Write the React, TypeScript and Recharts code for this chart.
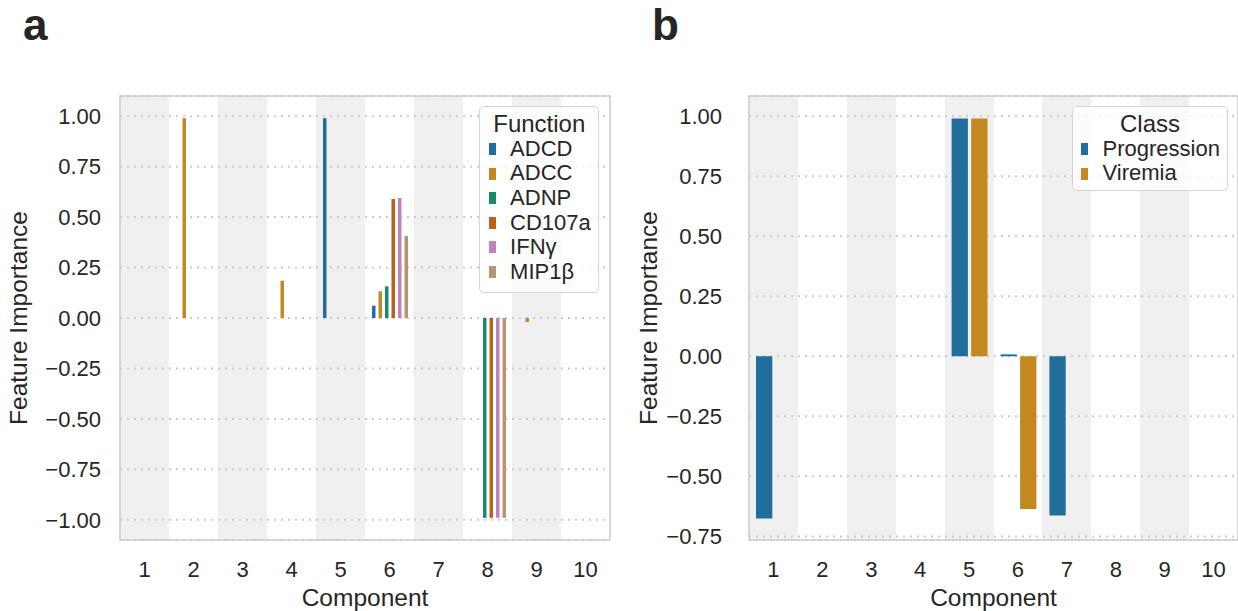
import { BarChart, Bar, XAxis, YAxis, CartesianGrid, ReferenceArea, Legend } from "recharts";

const components = [1, 2, 3, 4, 5, 6, 7, 8, 9, 10];

// panel a: importance of each antibody function per component
const functionNames = ["ADCD", "ADCC", "ADNP", "CD107a", "IFNγ", "MIP1β"];
const functionColors = ["#1f6e9c", "#c38820", "#168a6a", "#ba611b", "#c283b5", "#bd926e"];
const adcd = [0, 0, 0, 0, 0.99, 0.061, 0, 0, 0, 0];
const adcc = [0, 0.99, 0, 0.185, 0, 0.132, 0, 0, -0.02, 0];
const adnp = [0, 0, 0, 0, 0, 0.157, 0, -0.99, 0, 0];
const cd107a = [0, 0, 0, 0, 0, 0.59, 0, -0.99, 0, 0];
const ifng = [0, 0, 0, 0, 0, 0.595, 0, -0.99, 0, 0];
const mip1b = [0, 0, 0, 0, 0, 0.407, 0, -0.99, 0, 0];
const functionValues = [adcd, adcc, adnp, cd107a, ifng, mip1b];
const functionTicks = [-1, -0.75, -0.5, -0.25, 0, 0.25, 0.5, 0.75, 1];
const functionDomain = [-1.1, 1.1];

// panel b: importance per class
const classNames = ["Progression", "Viremia"];
const classColors = ["#1f6e9c", "#c38820"];
const progression = [-0.675, 0, 0, 0, 0.99, 0.008, -0.6625, 0, 0, 0];
const viremia = [0, 0, 0, 0, 0.99, -0.636, 0, 0, 0, 0];
const classValues = [progression, viremia];
const classTicks = [-0.75, -0.5, -0.25, 0, 0.25, 0.5, 0.75, 1];
const classDomain = [-0.765, 1.084];

const FONT = "'Liberation Sans', Arial, sans-serif";
const TEXT = "#262626";

const fmt = (v: number) => (v < 0 ? "\u2212" : "") + Math.abs(v).toFixed(2);

const dataA = components.map((c, i) => {
  const row: any = { component: c };
  functionNames.forEach((n, k) => (row[n] = functionValues[k][i]));
  return row;
});

const dataB = components.map((c, i) => {
  const row: any = { component: c };
  classNames.forEach((n, k) => (row[n] = classValues[k][i]));
  return row;
});

const LegendBox = ({ title, names, colors, width, height }: any) => (
  <div
    style={{
      boxSizing: "border-box",
      position: "relative",
      width,
      height,
      border: "1.5px solid #d4d4d4",
      borderRadius: 5,
      background: "rgba(255,255,255,0.8)",
      fontFamily: FONT,
      color: TEXT,
    }}
  >
    <div style={{ position: "absolute", top: 3.5, left: 0, right: 0, textAlign: "center", fontSize: 24, lineHeight: "26px" }}>
      {title}
    </div>
    {names.map((n: string, i: number) => (
      <div key={n} style={{ position: "absolute", left: 0, right: 0, top: 29.7 + i * 24.6, height: 24.6 }}>
        <span style={{ position: "absolute", left: 8.3, top: 6.3, width: 7.5, height: 12, background: colors[i] }} />
        <span style={{ position: "absolute", left: 29.8, top: 0, fontSize: 22, lineHeight: "24.6px", whiteSpace: "nowrap" }}>{n}</span>
      </div>
    ))}
  </div>
);

const yLabel = (dx: number) => (props: any) => {
  const vb = props.viewBox ?? { x: 0, y: 96, width: 120, height: 444 };
  const x = vb.x + dx;
  const y = vb.y + vb.height / 2;
  return (
    <text x={x} y={y} transform={`rotate(-90, ${x}, ${y})`} textAnchor="middle" fontSize={24.5} fill={TEXT} fontFamily={FONT}>
      Feature Importance
    </text>
  );
};

const xLabel = (props: any) => {
  const vb = props.viewBox ?? { x: 120, y: 540, width: 490, height: 71 };
  return (
    <text x={vb.x + vb.width / 2} y={vb.y + 65.5} textAnchor="middle" fontSize={24.5} fill={TEXT} fontFamily={FONT}>
      Component
    </text>
  );
};

const bands = ({ offset }: any) => components.map((_, i) => offset.left + (i * offset.width) / components.length);

const tickStyle = { fontSize: 22, fill: TEXT, fontFamily: FONT };

export default function App() {
  return (
    <div style={{ position: "absolute", left: 0, top: 0, width: 1238, height: 611, background: "#fff", overflow: "hidden" }}>
      <div style={{ position: "absolute", left: 0, top: 0 }}>
        <BarChart width={620} height={611} data={dataA} margin={{ top: 96, right: 10, bottom: 0, left: 0 }} barSize={3.5} barGap={3}>
          <CartesianGrid horizontal={false} vertical={true} stroke="none" verticalFill={["#f0f0f0", "#ffffff"]} fillOpacity={1} verticalCoordinatesGenerator={bands} />
          <CartesianGrid horizontal={true} vertical={false} stroke="#cccccc" strokeWidth={2} strokeDasharray="2 5" />
          <XAxis dataKey="component" type="category" interval={0} tick={tickStyle} tickLine={false} axisLine={false} tickSize={0} tickMargin={21.4} height={71} label={xLabel} />
          <YAxis type="number" domain={functionDomain} ticks={functionTicks} tickFormatter={fmt} tick={tickStyle} tickLine={false} axisLine={false} tickSize={0} tickMargin={19} width={120} label={yLabel(27)} />
          {functionNames.map((n, k) => (
            <Bar key={n} dataKey={n} fill={functionColors[k]} isAnimationActive={false} />
          ))}
          <ReferenceArea x1={1} x2={10} y1={functionDomain[0]} y2={functionDomain[1]} fill="none" fillOpacity={0} stroke="#cccccc" strokeWidth={1.5} />
          <Legend
            layout="horizontal"
            verticalAlign="middle"
            align="center"
            wrapperStyle={{ left: 479.3, top: 106, width: 120, height: 187, margin: 0 }}
            content={() => <LegendBox title="Function" names={functionNames} colors={functionColors} width={120} height={187} />}
          />
        </BarChart>
      </div>
      <div style={{ position: "absolute", left: 620, top: 0 }}>
        <BarChart width={618} height={611} data={dataB} margin={{ top: 96, right: 0, bottom: 0, left: 0 }} barSize={16.3} barGap={3.3}>
          <CartesianGrid horizontal={false} vertical={true} stroke="none" verticalFill={["#f0f0f0", "#ffffff"]} fillOpacity={1} verticalCoordinatesGenerator={bands} />
          <CartesianGrid horizontal={true} vertical={false} stroke="#cccccc" strokeWidth={2} strokeDasharray="2 5" />
          <XAxis dataKey="component" type="category" interval={0} tick={tickStyle} tickLine={false} axisLine={false} tickSize={0} tickMargin={21.4} height={71} label={xLabel} />
          <YAxis type="number" domain={classDomain} ticks={classTicks} tickFormatter={fmt} tick={tickStyle} tickLine={false} axisLine={false} tickSize={0} tickMargin={27} width={129} label={yLabel(37)} />
          {classNames.map((n, k) => (
            <Bar key={n} dataKey={n} fill={classColors[k]} isAnimationActive={false} />
          ))}
          <ReferenceArea x1={1} x2={10} y1={classDomain[0]} y2={classDomain[1]} fill="none" fillOpacity={0} stroke="#cccccc" strokeWidth={1.5} />
          <Legend
            layout="horizontal"
            verticalAlign="middle"
            align="center"
            wrapperStyle={{ left: 451.7, top: 106, width: 156.6, height: 85, margin: 0 }}
            content={() => <LegendBox title="Class" names={classNames} colors={classColors} width={156.6} height={85} />}
          />
        </BarChart>
      </div>
      <svg width={1238} height={611} style={{ position: "absolute", left: 0, top: 0, pointerEvents: "none" }}>
        <text x={23} y={40} fontSize={44} fontWeight="bold" fill={TEXT} fontFamily={FONT}>a</text>
        <text x={652} y={40} fontSize={44} fontWeight="bold" fill={TEXT} fontFamily={FONT}>b</text>
      </svg>
    </div>
  );
}
